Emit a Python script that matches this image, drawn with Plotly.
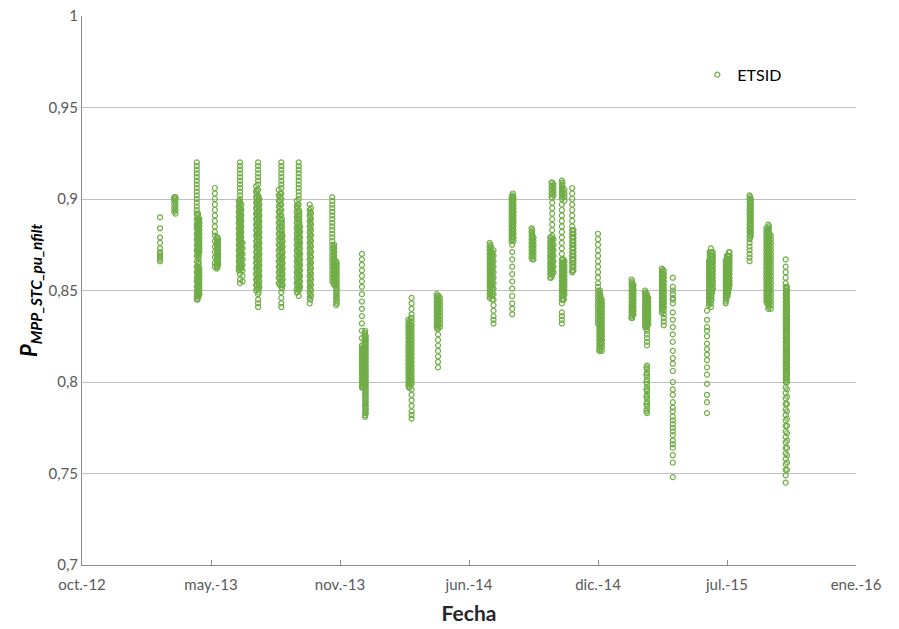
import plotly.graph_objects as go

# ---- data: measurement day columns and the P values read on each day ----
col_dates = [
    "2013-02-16",
    "2013-03-10", "2013-03-12",
    "2013-04-14", "2013-04-16", "2013-04-18", "2013-04-15", "2013-04-17",
    "2013-05-12", "2013-05-15", "2013-05-17", "2013-05-16",
    "2013-06-18", "2013-06-20", "2013-06-22", "2013-06-24", "2013-06-19", "2013-06-21",
    "2013-07-15", "2013-07-18", "2013-07-20", "2013-07-16", "2013-07-19",
    "2013-08-19", "2013-08-23", "2013-08-25", "2013-08-21", "2013-08-24",
    "2013-09-16", "2013-09-19", "2013-09-21", "2013-09-17", "2013-09-20",
    "2013-10-06", "2013-10-08", "2013-10-07",
    "2013-11-10", "2013-11-12", "2013-11-16", "2013-11-13", "2013-11-17",
    "2013-12-26", "2013-12-28", "2013-12-31", "2013-12-27", "2013-12-30", "2014-01-01",
    "2014-03-08", "2014-03-10", "2014-03-13", "2014-03-09", "2014-03-12",
    "2014-04-21", "2014-04-23", "2014-04-26", "2014-04-22", "2014-04-24",
    "2014-07-12", "2014-07-14", "2014-07-18", "2014-07-13", "2014-07-16",
    "2014-08-16", "2014-08-18", "2014-08-15", "2014-08-17",
    "2014-09-15", "2014-09-18", "2014-09-16",
    "2014-10-14", "2014-10-17", "2014-10-19", "2014-10-15", "2014-10-16",
    "2014-11-01", "2014-11-03", "2014-11-05", "2014-11-02", "2014-11-04",
    "2014-11-17", "2014-11-19", "2014-11-18",
    "2014-12-27", "2014-12-30", "2015-01-02", "2014-12-29", "2014-12-31", "2015-01-01",
    "2015-02-17", "2015-02-20", "2015-02-18", "2015-02-19",
    "2015-03-10", "2015-03-13", "2015-03-15", "2015-03-11", "2015-03-12", "2015-03-14",
    "2015-04-05", "2015-04-08", "2015-04-06", "2015-04-07",
    "2015-04-22",
    "2015-06-14",
    "2015-06-17", "2015-06-20", "2015-06-23", "2015-06-18", "2015-06-21", "2015-06-22",
    "2015-07-13", "2015-07-16", "2015-07-19", "2015-07-14", "2015-07-15", "2015-07-17", "2015-07-18",
    "2015-08-19", "2015-08-21", "2015-08-20",
    "2015-09-14", "2015-09-17", "2015-09-21", "2015-09-15", "2015-09-18", "2015-09-19",
    "2015-10-14", "2015-10-16", "2015-10-15",
]

col_values = [
    # Feb-2013
    [0.890, 0.884, 0.879, 0.876, 0.873, 0.871, 0.870, 0.869, 0.868, 0.867, 0.866],
    # Mar-2013
    [0.901, 0.900, 0.899, 0.897, 0.895, 0.893],
    [0.901, 0.900, 0.898, 0.896, 0.894, 0.892],
    # Apr-2013
    [0.920, 0.918, 0.916, 0.914, 0.912, 0.910, 0.908, 0.906, 0.904, 0.902, 0.900, 0.898, 0.896, 0.894, 0.892, 0.889, 0.886, 0.884, 0.881, 0.878, 0.875, 0.872, 0.869, 0.866, 0.863, 0.860, 0.857, 0.855, 0.852, 0.849, 0.847, 0.845],
    [0.892, 0.890, 0.888, 0.886, 0.884, 0.882, 0.880, 0.878, 0.876, 0.874, 0.872, 0.870, 0.868, 0.865, 0.862, 0.860, 0.858, 0.856, 0.854, 0.852, 0.850, 0.848, 0.846],
    [0.889, 0.887, 0.885, 0.883, 0.881, 0.879, 0.877, 0.875, 0.873, 0.871, 0.862, 0.860, 0.858, 0.856, 0.854, 0.852, 0.850, 0.848],
    [0.891, 0.889, 0.887, 0.885, 0.883, 0.881, 0.879, 0.877, 0.875, 0.873, 0.871, 0.863, 0.861, 0.859, 0.857, 0.855, 0.853, 0.851, 0.849, 0.847, 0.845],
    [0.889, 0.887, 0.885, 0.883, 0.881, 0.879, 0.877, 0.875, 0.873, 0.871, 0.869, 0.867, 0.865, 0.863, 0.861, 0.859, 0.857, 0.855, 0.853, 0.851, 0.849, 0.847],
    # May-2013
    [0.906, 0.903, 0.900, 0.897, 0.894, 0.891, 0.888, 0.885, 0.882, 0.880, 0.877, 0.874, 0.871, 0.868, 0.865, 0.863],
    [0.879, 0.877, 0.875, 0.873, 0.871, 0.869, 0.867, 0.865, 0.863, 0.862],
    [0.878, 0.876, 0.874, 0.872, 0.870, 0.868, 0.866, 0.864],
    [0.879, 0.877, 0.875, 0.873, 0.871, 0.869, 0.867, 0.865, 0.863],
    # Jun-2013
    [0.899, 0.896, 0.893, 0.890, 0.887, 0.884, 0.881, 0.878, 0.875, 0.872, 0.869, 0.866, 0.863, 0.861],
    [0.920, 0.918, 0.916, 0.914, 0.912, 0.910, 0.908, 0.906, 0.904, 0.902, 0.900, 0.898, 0.895, 0.892, 0.889, 0.886, 0.883, 0.880, 0.877, 0.874, 0.871, 0.868, 0.865, 0.862, 0.859, 0.856, 0.854],
    [0.897, 0.894, 0.891, 0.888, 0.885, 0.882, 0.879, 0.876, 0.873, 0.870, 0.867, 0.864, 0.862],
    [0.876, 0.873, 0.870, 0.867, 0.864, 0.861, 0.858, 0.855],
    [0.899, 0.897, 0.895, 0.893, 0.891, 0.889, 0.887, 0.885, 0.883, 0.881, 0.879, 0.877, 0.875, 0.873, 0.871, 0.869, 0.867, 0.865, 0.863, 0.861],
    [0.895, 0.893, 0.891, 0.889, 0.887, 0.885, 0.883, 0.881, 0.879, 0.877, 0.875, 0.873, 0.871, 0.869, 0.867, 0.865, 0.863],
    # Jul-2013
    [0.907, 0.904, 0.901, 0.898, 0.895, 0.892, 0.889, 0.886, 0.883, 0.880, 0.877, 0.874, 0.871, 0.868, 0.865, 0.862, 0.859, 0.856, 0.853, 0.850],
    [0.920, 0.918, 0.916, 0.914, 0.912, 0.910, 0.908, 0.905, 0.902, 0.899, 0.896, 0.893, 0.890, 0.887, 0.884, 0.881, 0.878, 0.875, 0.872, 0.869, 0.866, 0.863, 0.860, 0.857, 0.854, 0.851, 0.848, 0.845, 0.843, 0.841],
    [0.900, 0.897, 0.894, 0.891, 0.888, 0.885, 0.882, 0.879, 0.876, 0.873, 0.870, 0.867, 0.864, 0.861, 0.858, 0.855, 0.852],
    [0.905, 0.903, 0.901, 0.899, 0.897, 0.895, 0.893, 0.891, 0.889, 0.887, 0.885, 0.883, 0.881, 0.879, 0.877, 0.875, 0.873, 0.871, 0.869, 0.867, 0.865, 0.863, 0.861, 0.859, 0.857, 0.855, 0.853, 0.851],
    [0.901, 0.899, 0.897, 0.895, 0.893, 0.891, 0.889, 0.887, 0.885, 0.883, 0.881, 0.879, 0.877, 0.875, 0.873, 0.871, 0.869, 0.867, 0.865, 0.863, 0.861, 0.859, 0.857, 0.855, 0.853, 0.851, 0.849],
    # Aug-2013
    [0.905, 0.902, 0.899, 0.896, 0.893, 0.890, 0.887, 0.884, 0.881, 0.878, 0.875, 0.872, 0.869, 0.866, 0.863, 0.860, 0.857, 0.854],
    [0.920, 0.918, 0.916, 0.914, 0.912, 0.910, 0.908, 0.906, 0.903, 0.900, 0.897, 0.894, 0.891, 0.888, 0.885, 0.882, 0.879, 0.876, 0.873, 0.870, 0.867, 0.864, 0.861, 0.858, 0.855, 0.852, 0.849, 0.846, 0.843, 0.841],
    [0.880, 0.877, 0.874, 0.871, 0.868, 0.865, 0.862, 0.859, 0.856, 0.853],
    [0.903, 0.901, 0.899, 0.897, 0.895, 0.893, 0.891, 0.889, 0.887, 0.885, 0.883, 0.881, 0.879, 0.877, 0.875, 0.873, 0.871, 0.869, 0.867, 0.865, 0.863, 0.861, 0.859, 0.857, 0.855, 0.853],
    [0.889, 0.887, 0.885, 0.883, 0.881, 0.879, 0.877, 0.875, 0.873, 0.871, 0.869, 0.867, 0.865, 0.863, 0.861, 0.859, 0.857, 0.855, 0.853, 0.851],
    # Sep-2013
    [0.899, 0.896, 0.893, 0.890, 0.887, 0.884, 0.881, 0.878, 0.875, 0.872, 0.869, 0.866, 0.863, 0.860, 0.857, 0.854, 0.851, 0.849],
    [0.920, 0.918, 0.916, 0.914, 0.912, 0.910, 0.908, 0.906, 0.904, 0.902, 0.900, 0.897, 0.894, 0.891, 0.888, 0.885, 0.882, 0.879, 0.876, 0.873, 0.870, 0.867, 0.864, 0.861, 0.858, 0.855, 0.852, 0.850, 0.847],
    [0.885, 0.882, 0.879, 0.876, 0.873, 0.870, 0.867, 0.864, 0.861, 0.858, 0.855, 0.852],
    [0.897, 0.895, 0.893, 0.891, 0.889, 0.887, 0.885, 0.883, 0.881, 0.879, 0.877, 0.875, 0.873, 0.871, 0.869, 0.867, 0.865, 0.863, 0.861, 0.859, 0.857, 0.855, 0.853, 0.851, 0.849],
    [0.893, 0.891, 0.889, 0.887, 0.885, 0.883, 0.881, 0.879, 0.877, 0.875, 0.873, 0.871, 0.869, 0.867, 0.865, 0.863, 0.861, 0.859, 0.857, 0.855, 0.853, 0.851],
    # Oct-2013
    [0.897, 0.894, 0.891, 0.888, 0.885, 0.882, 0.879, 0.876, 0.873, 0.870, 0.867, 0.864, 0.861, 0.858, 0.855, 0.852, 0.849, 0.846, 0.843],
    [0.895, 0.892, 0.889, 0.886, 0.883, 0.880, 0.877, 0.874, 0.871, 0.868, 0.865, 0.862, 0.859, 0.856, 0.853, 0.850, 0.847],
    [0.893, 0.890, 0.887, 0.884, 0.881, 0.878, 0.875, 0.872, 0.869, 0.866, 0.863, 0.860, 0.857, 0.854, 0.851, 0.848, 0.845],
    # Nov-2013
    [0.901, 0.899, 0.897, 0.895, 0.893, 0.891, 0.889, 0.887, 0.885, 0.883, 0.881, 0.879, 0.877, 0.875, 0.873, 0.871, 0.869, 0.867, 0.865, 0.863, 0.861, 0.859, 0.857, 0.855],
    [0.874, 0.872, 0.870, 0.868, 0.866, 0.864, 0.862, 0.860, 0.858, 0.856, 0.854],
    [0.866, 0.864, 0.862, 0.860, 0.858, 0.856, 0.854, 0.852, 0.850, 0.848, 0.846, 0.844, 0.842],
    [0.875, 0.873, 0.871, 0.869, 0.867, 0.865, 0.863, 0.861, 0.859, 0.857, 0.855, 0.853],
    [0.865, 0.863, 0.861, 0.859, 0.857, 0.855, 0.853, 0.851, 0.849, 0.847, 0.845, 0.843],
    # Dec-2013 / Jan-2014
    [0.870, 0.867, 0.864, 0.861, 0.858, 0.855, 0.852, 0.848, 0.844, 0.840, 0.836, 0.832, 0.828, 0.824, 0.820, 0.818, 0.816, 0.814, 0.812, 0.810, 0.808, 0.806, 0.804, 0.802, 0.800, 0.798, 0.797],
    [0.817, 0.815, 0.813, 0.811, 0.809, 0.807, 0.805, 0.803, 0.801, 0.799],
    [0.828, 0.826, 0.824, 0.822, 0.820, 0.818, 0.816, 0.814, 0.812, 0.810, 0.808, 0.806, 0.804, 0.802, 0.800, 0.798, 0.796, 0.794, 0.792, 0.790, 0.788, 0.786, 0.784, 0.782, 0.781],
    [0.819, 0.817, 0.815, 0.813, 0.811, 0.809, 0.807, 0.805, 0.803, 0.801, 0.799, 0.797],
    [0.827, 0.825, 0.823, 0.821, 0.819, 0.817, 0.815, 0.813, 0.811, 0.809, 0.807, 0.805, 0.803, 0.801, 0.799, 0.797],
    [0.825, 0.823, 0.821, 0.819, 0.817, 0.815, 0.813, 0.811, 0.809, 0.807, 0.805, 0.803, 0.801, 0.799, 0.797, 0.795, 0.793, 0.791, 0.789, 0.787, 0.785, 0.783],
    # Mar-2014
    [0.834, 0.832, 0.830, 0.828, 0.826, 0.824, 0.822, 0.820, 0.818, 0.816, 0.814, 0.812, 0.810, 0.808, 0.806, 0.804, 0.802, 0.800, 0.798],
    [0.831, 0.829, 0.827, 0.825, 0.823, 0.821, 0.819, 0.817, 0.815, 0.813, 0.811, 0.809, 0.807, 0.805, 0.803, 0.801, 0.799, 0.797],
    [0.846, 0.843, 0.840, 0.837, 0.835, 0.833, 0.831, 0.829, 0.827, 0.825, 0.823, 0.821, 0.819, 0.817, 0.815, 0.813, 0.811, 0.809, 0.807, 0.805, 0.803, 0.801, 0.799, 0.796, 0.793, 0.790, 0.787, 0.784, 0.782, 0.780],
    [0.833, 0.831, 0.829, 0.827, 0.825, 0.823, 0.821, 0.819, 0.817, 0.815, 0.813, 0.811, 0.809, 0.807, 0.805, 0.803, 0.801, 0.799, 0.797],
    [0.835, 0.833, 0.831, 0.829, 0.827, 0.825, 0.823, 0.821, 0.819, 0.817, 0.815, 0.813, 0.811, 0.809, 0.807, 0.805, 0.803, 0.801, 0.799],
    # Apr-2014
    [0.848, 0.846, 0.844, 0.842, 0.840, 0.838, 0.836, 0.834, 0.832, 0.830],
    [0.847, 0.845, 0.843, 0.841, 0.839, 0.837, 0.835, 0.833, 0.831, 0.829, 0.826, 0.823, 0.820, 0.817, 0.814, 0.811, 0.808],
    [0.846, 0.844, 0.842, 0.840, 0.838, 0.836, 0.834, 0.832, 0.830],
    [0.847, 0.845, 0.843, 0.841, 0.839, 0.837, 0.835, 0.833, 0.831, 0.829],
    [0.847, 0.845, 0.843, 0.841, 0.839, 0.837, 0.835, 0.833, 0.831],
    # Jul-2014
    [0.876, 0.874, 0.872, 0.870, 0.868, 0.866, 0.864, 0.862, 0.860, 0.858, 0.856, 0.854, 0.852, 0.850, 0.848, 0.846],
    [0.874, 0.872, 0.870, 0.868, 0.866, 0.864, 0.862, 0.860, 0.858, 0.856, 0.854, 0.852],
    [0.872, 0.869, 0.866, 0.863, 0.860, 0.857, 0.854, 0.851, 0.848, 0.845, 0.842, 0.839, 0.836, 0.834, 0.832],
    [0.875, 0.873, 0.871, 0.869, 0.867, 0.865, 0.863, 0.861, 0.859, 0.857, 0.855, 0.853, 0.851, 0.849, 0.847],
    [0.871, 0.869, 0.867, 0.865, 0.863, 0.861, 0.859, 0.857, 0.855, 0.853, 0.851, 0.849, 0.847, 0.845],
    # Aug-2014
    [0.902, 0.900, 0.898, 0.896, 0.894, 0.892, 0.890, 0.888, 0.886, 0.884, 0.882, 0.880, 0.878, 0.875, 0.871, 0.867, 0.863, 0.859, 0.855, 0.851, 0.847, 0.843, 0.840, 0.837],
    [0.901, 0.899, 0.897, 0.895, 0.893, 0.891, 0.889, 0.887, 0.885, 0.883, 0.881, 0.879, 0.877],
    [0.901, 0.899, 0.897, 0.895, 0.893, 0.891, 0.889, 0.887, 0.885, 0.883, 0.881, 0.879, 0.877],
    [0.903, 0.901, 0.899, 0.897, 0.895, 0.893, 0.891, 0.889, 0.887, 0.885, 0.883, 0.881, 0.879],
    # Sep-2014
    [0.884, 0.882, 0.880, 0.878, 0.876, 0.874, 0.872, 0.870, 0.868],
    [0.879, 0.877, 0.875, 0.873, 0.871, 0.869, 0.867],
    [0.883, 0.881, 0.879, 0.877, 0.875, 0.873, 0.871, 0.869, 0.867],
    # Oct-2014
    [0.879, 0.877, 0.875, 0.873, 0.871, 0.869, 0.867, 0.865, 0.863, 0.861, 0.859, 0.857],
    [0.909, 0.907, 0.905, 0.903, 0.901, 0.898, 0.895, 0.892, 0.889, 0.886, 0.883, 0.880, 0.878, 0.876, 0.874, 0.872, 0.870, 0.868, 0.866, 0.864, 0.862, 0.860, 0.858],
    [0.908, 0.906, 0.904, 0.902, 0.878, 0.875, 0.872, 0.869, 0.866, 0.863, 0.860],
    [0.879, 0.877, 0.875, 0.873, 0.871, 0.869, 0.867, 0.865, 0.863, 0.861, 0.859, 0.857],
    [0.909, 0.907, 0.905, 0.903, 0.901, 0.877, 0.873, 0.869, 0.865, 0.861],
    # Nov-2014
    [0.910, 0.908, 0.906, 0.904, 0.902, 0.900, 0.897, 0.894, 0.891, 0.888, 0.885, 0.882, 0.879, 0.876, 0.873, 0.870, 0.867, 0.865, 0.863, 0.861, 0.859, 0.857, 0.855, 0.853, 0.851, 0.849, 0.847, 0.845, 0.843, 0.838, 0.836, 0.834, 0.832],
    [0.867, 0.865, 0.863, 0.861, 0.859, 0.857, 0.855, 0.853, 0.851, 0.849, 0.847, 0.845],
    [0.905, 0.903, 0.901, 0.899, 0.866, 0.864, 0.862, 0.860, 0.858, 0.856, 0.854, 0.852, 0.850, 0.848],
    [0.909, 0.907, 0.905, 0.903, 0.901, 0.867, 0.865, 0.863, 0.861, 0.859, 0.857, 0.855, 0.853, 0.851, 0.849, 0.847, 0.845],
    [0.865, 0.863, 0.861, 0.859, 0.857, 0.855, 0.853, 0.851, 0.849, 0.847, 0.845],
    [0.906, 0.903, 0.900, 0.897, 0.894, 0.891, 0.888, 0.885, 0.883, 0.881, 0.879, 0.877, 0.875, 0.873, 0.871, 0.869, 0.867, 0.865, 0.863, 0.861, 0.860],
    [0.883, 0.881, 0.879, 0.877, 0.875, 0.873, 0.871, 0.869, 0.867, 0.865, 0.863, 0.861],
    [0.883, 0.881, 0.879, 0.877, 0.875, 0.873, 0.871, 0.869, 0.867, 0.865, 0.863, 0.861],
    # Dec-2014 / Jan-2015
    [0.881, 0.878, 0.875, 0.872, 0.869, 0.866, 0.863, 0.860, 0.857, 0.854, 0.852, 0.850, 0.848, 0.846, 0.844, 0.842, 0.840, 0.838, 0.836, 0.834, 0.832],
    [0.850, 0.848, 0.846, 0.844, 0.842, 0.840, 0.838, 0.836, 0.834, 0.832, 0.830, 0.828, 0.826, 0.824, 0.822, 0.820, 0.818, 0.817],
    [0.845, 0.843, 0.841, 0.839, 0.837, 0.835, 0.833, 0.831, 0.829, 0.827, 0.825, 0.823, 0.821, 0.819, 0.817],
    [0.849, 0.847, 0.845, 0.843, 0.841, 0.839, 0.837, 0.835, 0.833, 0.831, 0.829, 0.827, 0.825, 0.823, 0.821, 0.819, 0.817],
    [0.847, 0.845, 0.843, 0.841, 0.839, 0.837, 0.835, 0.833, 0.831, 0.829, 0.827, 0.825, 0.823, 0.821, 0.819],
    [0.843, 0.841, 0.839, 0.837, 0.835, 0.833, 0.831, 0.829, 0.827, 0.825, 0.823, 0.821],
    # Feb-2015
    [0.856, 0.854, 0.852, 0.850, 0.848, 0.846, 0.844, 0.842, 0.840, 0.838, 0.836, 0.835],
    [0.853, 0.851, 0.849, 0.847, 0.845, 0.843, 0.841, 0.839, 0.837],
    [0.855, 0.853, 0.851, 0.849, 0.847, 0.845, 0.843, 0.841, 0.839, 0.837, 0.835],
    [0.853, 0.851, 0.849, 0.847, 0.845, 0.843, 0.841, 0.839, 0.837],
    # Mar-2015
    [0.850, 0.848, 0.846, 0.844, 0.842, 0.840, 0.838, 0.836, 0.834, 0.832, 0.830],
    [0.848, 0.846, 0.844, 0.842, 0.840, 0.838, 0.836, 0.834, 0.832, 0.830, 0.828, 0.826, 0.824, 0.822, 0.820, 0.809, 0.807, 0.805, 0.803, 0.801, 0.799, 0.797, 0.795, 0.793, 0.791, 0.789, 0.787, 0.785, 0.783],
    [0.846, 0.844, 0.842, 0.840, 0.838, 0.836, 0.834, 0.832],
    [0.849, 0.847, 0.845, 0.843, 0.841, 0.839, 0.837, 0.835, 0.833, 0.831],
    [0.847, 0.845, 0.843, 0.841, 0.839, 0.837, 0.835, 0.833, 0.831, 0.829, 0.808, 0.804, 0.800, 0.796, 0.792, 0.788, 0.784],
    [0.845, 0.843, 0.841, 0.839, 0.837, 0.835, 0.833, 0.831],
    # Apr-2015
    [0.862, 0.860, 0.858, 0.856, 0.854, 0.852, 0.850, 0.848, 0.846, 0.844, 0.842, 0.840, 0.838],
    [0.861, 0.859, 0.857, 0.855, 0.853, 0.851, 0.849, 0.847, 0.845, 0.843, 0.841, 0.839, 0.837, 0.835, 0.833, 0.831],
    [0.861, 0.859, 0.857, 0.855, 0.853, 0.851, 0.849, 0.847, 0.845, 0.843, 0.841, 0.839],
    [0.859, 0.857, 0.855, 0.853, 0.851, 0.849, 0.847, 0.845, 0.843, 0.841],
    [0.857, 0.852, 0.850, 0.848, 0.846, 0.845, 0.843, 0.838, 0.834, 0.830, 0.826, 0.822, 0.817, 0.813, 0.810, 0.806, 0.800, 0.796, 0.793, 0.789, 0.786, 0.784, 0.781, 0.779, 0.777, 0.775, 0.773, 0.771, 0.768, 0.766, 0.764, 0.760, 0.756, 0.748],
    # Jun-2015
    [0.839, 0.834, 0.830, 0.828, 0.825, 0.821, 0.818, 0.815, 0.812, 0.808, 0.804, 0.799, 0.793, 0.789, 0.783],
    [0.866, 0.864, 0.862, 0.860, 0.858, 0.856, 0.854, 0.852, 0.850, 0.848, 0.846, 0.844, 0.842],
    [0.873, 0.871, 0.869, 0.867, 0.865, 0.863, 0.861, 0.859, 0.857, 0.855, 0.853, 0.851, 0.849, 0.847, 0.845, 0.843, 0.841],
    [0.871, 0.869, 0.867, 0.865, 0.863, 0.861, 0.859, 0.857, 0.855, 0.853, 0.851],
    [0.871, 0.869, 0.867, 0.865, 0.863, 0.861, 0.859, 0.857, 0.855, 0.853, 0.851, 0.849, 0.847, 0.845, 0.843],
    [0.871, 0.869, 0.867, 0.865, 0.863, 0.861, 0.859, 0.857, 0.855, 0.853, 0.851, 0.849, 0.847, 0.845],
    [0.869, 0.867, 0.865, 0.863, 0.861, 0.859, 0.857, 0.855, 0.853, 0.851, 0.849],
    # Jul-2015
    [0.866, 0.864, 0.862, 0.860, 0.858, 0.856, 0.854, 0.852, 0.850, 0.848, 0.846, 0.844, 0.843],
    [0.869, 0.867, 0.865, 0.863, 0.861, 0.859, 0.857, 0.855, 0.853, 0.851, 0.849, 0.847],
    [0.871, 0.869, 0.867, 0.865, 0.863, 0.861, 0.859, 0.857, 0.855, 0.853],
    [0.867, 0.865, 0.863, 0.861, 0.859, 0.857, 0.855, 0.853, 0.851, 0.849, 0.847, 0.845],
    [0.869, 0.867, 0.865, 0.863, 0.861, 0.859, 0.857, 0.855, 0.853, 0.851, 0.849, 0.847],
    [0.869, 0.867, 0.865, 0.863, 0.861, 0.859, 0.857, 0.855, 0.853, 0.851, 0.849],
    [0.871, 0.869, 0.867, 0.865, 0.863, 0.861, 0.859, 0.857, 0.855, 0.853, 0.851],
    # Aug-2015
    [0.902, 0.900, 0.898, 0.896, 0.894, 0.892, 0.890, 0.888, 0.886, 0.884, 0.882, 0.880, 0.878, 0.876, 0.874, 0.872, 0.870, 0.868, 0.866],
    [0.900, 0.898, 0.896, 0.894, 0.892, 0.890, 0.888, 0.886, 0.884, 0.882, 0.880],
    [0.901, 0.899, 0.897, 0.895, 0.893, 0.891, 0.889, 0.887, 0.885, 0.883, 0.881, 0.879],
    # Sep-2015
    [0.884, 0.882, 0.880, 0.878, 0.876, 0.874, 0.872, 0.870, 0.868, 0.866, 0.864, 0.862, 0.860, 0.858, 0.856, 0.854, 0.852, 0.850, 0.848, 0.846, 0.844],
    [0.886, 0.884, 0.882, 0.880, 0.878, 0.876, 0.874, 0.872, 0.870, 0.868, 0.866, 0.864, 0.862, 0.860, 0.858, 0.856, 0.854, 0.852, 0.850, 0.848, 0.846, 0.844, 0.842, 0.840],
    [0.880, 0.878, 0.876, 0.874, 0.872, 0.870, 0.868, 0.866, 0.864, 0.862, 0.860, 0.858, 0.856, 0.854, 0.852, 0.850, 0.848, 0.846, 0.844, 0.842, 0.840],
    [0.883, 0.881, 0.879, 0.877, 0.875, 0.873, 0.871, 0.869, 0.867, 0.865, 0.863, 0.861, 0.859, 0.857, 0.855, 0.853, 0.851, 0.849, 0.847, 0.845, 0.843],
    [0.885, 0.883, 0.881, 0.879, 0.877, 0.875, 0.873, 0.871, 0.869, 0.867, 0.865, 0.863, 0.861, 0.859, 0.857, 0.855, 0.853, 0.851, 0.849, 0.847, 0.845, 0.843, 0.841],
    [0.881, 0.879, 0.877, 0.875, 0.873, 0.871, 0.869, 0.867, 0.865, 0.863, 0.861, 0.859, 0.857, 0.855, 0.853, 0.851, 0.849, 0.847, 0.845, 0.843],
    # Oct-2015
    [0.867, 0.863, 0.860, 0.857, 0.854, 0.852, 0.850, 0.848, 0.846, 0.844, 0.842, 0.840, 0.838, 0.836, 0.834, 0.832, 0.830, 0.828, 0.826, 0.824, 0.822, 0.820, 0.818, 0.816, 0.814, 0.812, 0.810, 0.808, 0.806, 0.804, 0.802, 0.800, 0.797, 0.794, 0.791, 0.788, 0.785, 0.782, 0.779, 0.776, 0.773, 0.770, 0.767, 0.764, 0.761, 0.758, 0.755, 0.752, 0.749, 0.745],
    [0.852, 0.850, 0.848, 0.846, 0.844, 0.842, 0.840, 0.838, 0.836, 0.834, 0.832, 0.830, 0.828, 0.826, 0.824, 0.822, 0.820, 0.818, 0.816, 0.814, 0.812, 0.810, 0.808, 0.806, 0.804, 0.802, 0.800, 0.796, 0.792, 0.788, 0.784, 0.780, 0.776, 0.772, 0.768, 0.764, 0.760, 0.756, 0.752],
    [0.851, 0.849, 0.847, 0.845, 0.843, 0.841, 0.839, 0.837, 0.835, 0.833, 0.831, 0.829, 0.827, 0.825, 0.823, 0.821, 0.819, 0.817, 0.815, 0.813, 0.811, 0.809, 0.807, 0.805, 0.803, 0.801],
]

series_name = "ETSID"

x_tick_vals = ["2012-10-18", "2013-05-06", "2013-11-22", "2014-06-10",
               "2014-12-27", "2015-07-15", "2016-01-31"]
x_tick_text = ["oct.-12", "may.-13", "nov.-13", "jun.-14", "dic.-14", "jul.-15", "ene.-16"]
y_tick_vals = [0.7, 0.75, 0.8, 0.85, 0.9, 0.95, 1.0]
y_tick_text = ["0,7", "0,75", "0,8", "0,85", "0,9", "0,95", "1"]

# ---- flatten ----
xs, ys = [], []
for d, vals in zip(col_dates, col_values):
    for v in vals:
        xs.append(d)
        ys.append(v)

GREEN = "#70AD47"
FONT = "Lato, 'Open Sans', sans-serif"

fig = go.Figure()
fig.add_trace(go.Scatter(
    x=xs, y=ys, mode="markers", name=series_name,
    marker=dict(symbol="circle-open", size=5, color=GREEN, line=dict(width=1.2, color=GREEN)),
))

# the page body has an 8px default margin, so the figure is sized to fit inside it
fig.update_layout(
    width=891, height=621,
    margin=dict(l=74, r=43, t=8, b=64),
    paper_bgcolor="white", plot_bgcolor="white",
    showlegend=True,
    legend=dict(x=0.795, y=0.893, xanchor="left", yanchor="middle",
                font=dict(family=FONT, size=16, color="#000000"),
                bgcolor="rgba(0,0,0,0)"),
    font=dict(family=FONT, size=15, color="#595959"),
)

fig.update_xaxes(
    type="date", automargin=False,
    range=["2012-10-18", "2016-01-31"],
    tickmode="array", tickvals=x_tick_vals, ticktext=x_tick_text,
    showgrid=False, zeroline=False,
    showline=True, linecolor="#8C8C8C", linewidth=1,
    ticks="inside", ticklen=5, tickcolor="#8C8C8C",
    ticklabelstandoff=6, ticklabeloverflow="allow",
    tickfont=dict(family=FONT, size=15, color="#595959"),
    title=dict(text="<b>Fecha</b>", font=dict(family=FONT, size=21, color="#262626"), standoff=14),
)
fig.update_yaxes(
    automargin=False,
    range=[0.7, 1.0],
    tickmode="array", tickvals=y_tick_vals, ticktext=y_tick_text,
    showgrid=True, gridcolor="#BFBFBF", gridwidth=1,
    zeroline=False,
    showline=True, linecolor="#8C8C8C", linewidth=1,
    ticks="", ticklen=0, ticklabeloverflow="allow",
    tickfont=dict(family=FONT, size=15, color="#595959"),
    title=dict(text="<b><i>P<sub>MPP_STC_pu_nfilt</sub></i></b>",
               font=dict(family=FONT, size=22, color="#000000"), standoff=4),
)

fig.write_html("out.html")
